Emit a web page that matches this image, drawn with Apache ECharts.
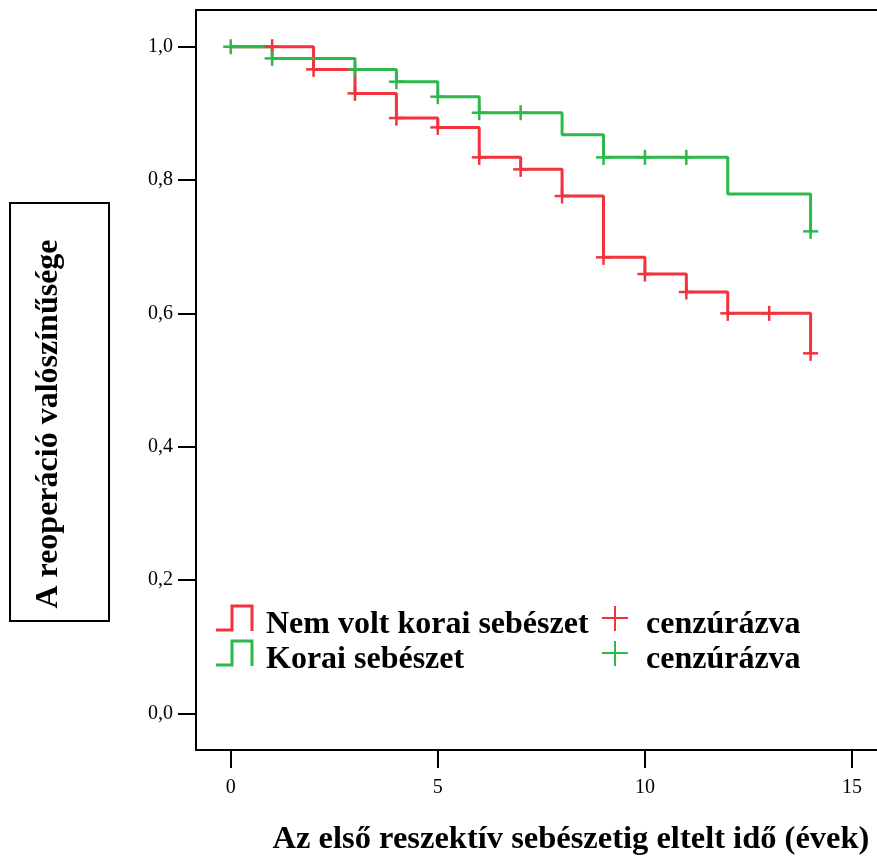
<!DOCTYPE html>
<html>
<head>
<meta charset="utf-8">
<title>Reoperáció – Kaplan–Meier</title>
<script src="https://cdn.jsdelivr.net/npm/echarts@6/dist/echarts.min.js"></script>
<style>
  html, body { margin: 0; padding: 0; background: #fff; }
  #chart { width: 877px; height: 860px; }
</style>
</head>
<body>
<div id="chart"></div>
<script>
// Axis ticks
const xTicks = [0, 5, 10, 15];
const yTicks = [0, 0.2, 0.4, 0.6, 0.8, 1.0];
const yTickLabels = ['0,0', '0,2', '0,4', '0,6', '0,8', '1,0'];

// Nem volt korai sebészet: step times (years) and survival after each step
const redTimes = [0, 2, 3, 4, 5, 6, 7, 8, 9, 10, 11, 12, 14];
const redSurv  = [1, 0.966, 0.930, 0.893, 0.879, 0.834, 0.816, 0.776, 0.684, 0.659, 0.632, 0.600, 0.540];
const redCensored = [1, 2, 3, 4, 5, 6, 7, 8, 9, 10, 11, 12, 13, 14];

// Korai sebészet
const greenTimes = [0, 1, 3, 4, 5, 6, 8, 9, 12, 14];
const greenSurv  = [1, 0.9825, 0.966, 0.9475, 0.925, 0.901, 0.868, 0.834, 0.779, 0.723];
const greenCensored = [0, 1, 3, 4, 5, 6, 7, 9, 10, 11, 14];

const RED = '#f2333d';
const GREEN = '#2db84b';
const SERIF = '"Liberation Serif", "Times New Roman", serif';

// survival value of a step curve at time t
function survAt(times, surv, t) {
  let v = surv[0];
  for (let i = 0; i < times.length; i++) if (times[i] <= t) v = surv[i];
  return v;
}
const pairs = (xs, ys) => xs.map((x, i) => [x, ys[i]]);
const censorPts = (cens, times, surv) => cens.map(t => [t, survAt(times, surv, t)]);

function crossSeries(name, data, color) {
  return {
    name, type: 'custom', data, z: 5,
    renderItem(params, api) {
      const p = api.coord([api.value(0), api.value(1)]);
      const h = 7.5;
      const st = { stroke: color, lineWidth: 2.5 };
      return {
        type: 'group',
        children: [
          { type: 'line', shape: { x1: p[0] - h, y1: p[1], x2: p[0] + h, y2: p[1] }, style: st },
          { type: 'line', shape: { x1: p[0], y1: p[1] - h, x2: p[0], y2: p[1] + h }, style: st }
        ]
      };
    }
  };
}

const chart = echarts.init(document.getElementById('chart'), null, { renderer: 'canvas' });

const frameLine = { show: true, onZero: false, lineStyle: { color: '#000', width: 2 } };
const tickStyle = { show: true, length: 18, lineStyle: { color: '#000', width: 2 } };
const X_MIN = -0.838, X_MAX = 15.603;

chart.setOption({
  animation: false,
  backgroundColor: '#fff',
  grid: { left: 196, top: 10, right: 0, height: 740, show: false },
  xAxis: [
    {
      type: 'value', min: X_MIN, max: X_MAX, position: 'bottom',
      splitLine: { show: false },
      axisLine: frameLine,
      axisTick: Object.assign({ customValues: xTicks }, tickStyle),
      axisLabel: {
        customValues: xTicks, color: '#000', fontFamily: SERIF, fontSize: 20, margin: 28
      }
    },
    {
      // top edge of the plot frame
      type: 'value', min: X_MIN, max: X_MAX, position: 'top',
      splitLine: { show: false }, axisLine: frameLine,
      axisTick: { show: false }, axisLabel: { show: false }
    }
  ],
  yAxis: {
    type: 'value', min: -0.0551, max: 1.0551,
    splitLine: { show: false },
    axisLine: frameLine,
    axisTick: Object.assign({ customValues: yTicks }, tickStyle),
    axisLabel: {
      customValues: yTicks, color: '#000', fontFamily: SERIF, fontSize: 20, margin: 23,
      padding: [5, 0, 0, 0],
      formatter: v => {
        const i = yTicks.findIndex(t => Math.abs(t - v) < 1e-6);
        return i >= 0 ? yTickLabels[i] : '';
      }
    }
  },
  series: [
    {
      name: 'Nem volt korai sebészet', type: 'line', step: 'end',
      data: pairs(redTimes, redSurv), showSymbol: false,
      lineStyle: { color: RED, width: 3 }, itemStyle: { color: RED }
    },
    {
      name: 'Korai sebészet', type: 'line', step: 'end',
      data: pairs(greenTimes, greenSurv), showSymbol: false,
      lineStyle: { color: GREEN, width: 3 }, itemStyle: { color: GREEN }
    },
    crossSeries('cenzúrázva (nem korai)', censorPts(redCensored, redTimes, redSurv), RED),
    crossSeries('cenzúrázva (korai)', censorPts(greenCensored, greenTimes, greenSurv), GREEN)
  ],
  graphic: [
    // boxed y-axis title
    { type: 'rect', shape: { x: 10, y: 203, width: 99, height: 418 },
      style: { fill: 'none', stroke: '#000', lineWidth: 2 } },
    { type: 'text', x: 49, y: 424, rotation: Math.PI / 2,
      style: { text: 'A reoperáció valószínűsége', font: 'bold 32px ' + SERIF,
               fill: '#000', align: 'center', verticalAlign: 'middle' } },
    // x-axis title
    { type: 'text', x: 571, y: 840,
      style: { text: 'Az első reszektív sebészetig eltelt idő (évek)', font: 'bold 32.5px ' + SERIF,
               fill: '#000', align: 'center', verticalAlign: 'middle' } },
    // legend: step icons
    { type: 'polyline', shape: { points: [[216, 630], [232, 630], [232, 606], [252, 606], [252, 631]] },
      style: { stroke: RED, lineWidth: 3, fill: 'none' } },
    { type: 'polyline', shape: { points: [[216, 665], [232, 665], [232, 641], [252, 641], [252, 666]] },
      style: { stroke: GREEN, lineWidth: 3, fill: 'none' } },
    { type: 'text', x: 266, y: 625,
      style: { text: 'Nem volt korai sebészet', font: 'bold 32px ' + SERIF, fill: '#000',
               align: 'left', verticalAlign: 'middle' } },
    { type: 'text', x: 266, y: 660,
      style: { text: 'Korai sebészet', font: 'bold 32px ' + SERIF, fill: '#000',
               align: 'left', verticalAlign: 'middle' } },
    // legend: censor crosses
    { type: 'line', shape: { x1: 602, y1: 618, x2: 628, y2: 618 }, style: { stroke: RED, lineWidth: 2 } },
    { type: 'line', shape: { x1: 615, y1: 606, x2: 615, y2: 631 }, style: { stroke: RED, lineWidth: 2 } },
    { type: 'line', shape: { x1: 602, y1: 653, x2: 628, y2: 653 }, style: { stroke: GREEN, lineWidth: 2 } },
    { type: 'line', shape: { x1: 615, y1: 641, x2: 615, y2: 666 }, style: { stroke: GREEN, lineWidth: 2 } },
    { type: 'text', x: 646, y: 625,
      style: { text: 'cenzúrázva', font: 'bold 32px ' + SERIF, fill: '#000',
               align: 'left', verticalAlign: 'middle' } },
    { type: 'text', x: 646, y: 660,
      style: { text: 'cenzúrázva', font: 'bold 32px ' + SERIF, fill: '#000',
               align: 'left', verticalAlign: 'middle' } }
  ]
});
</script>
</body>
</html>
